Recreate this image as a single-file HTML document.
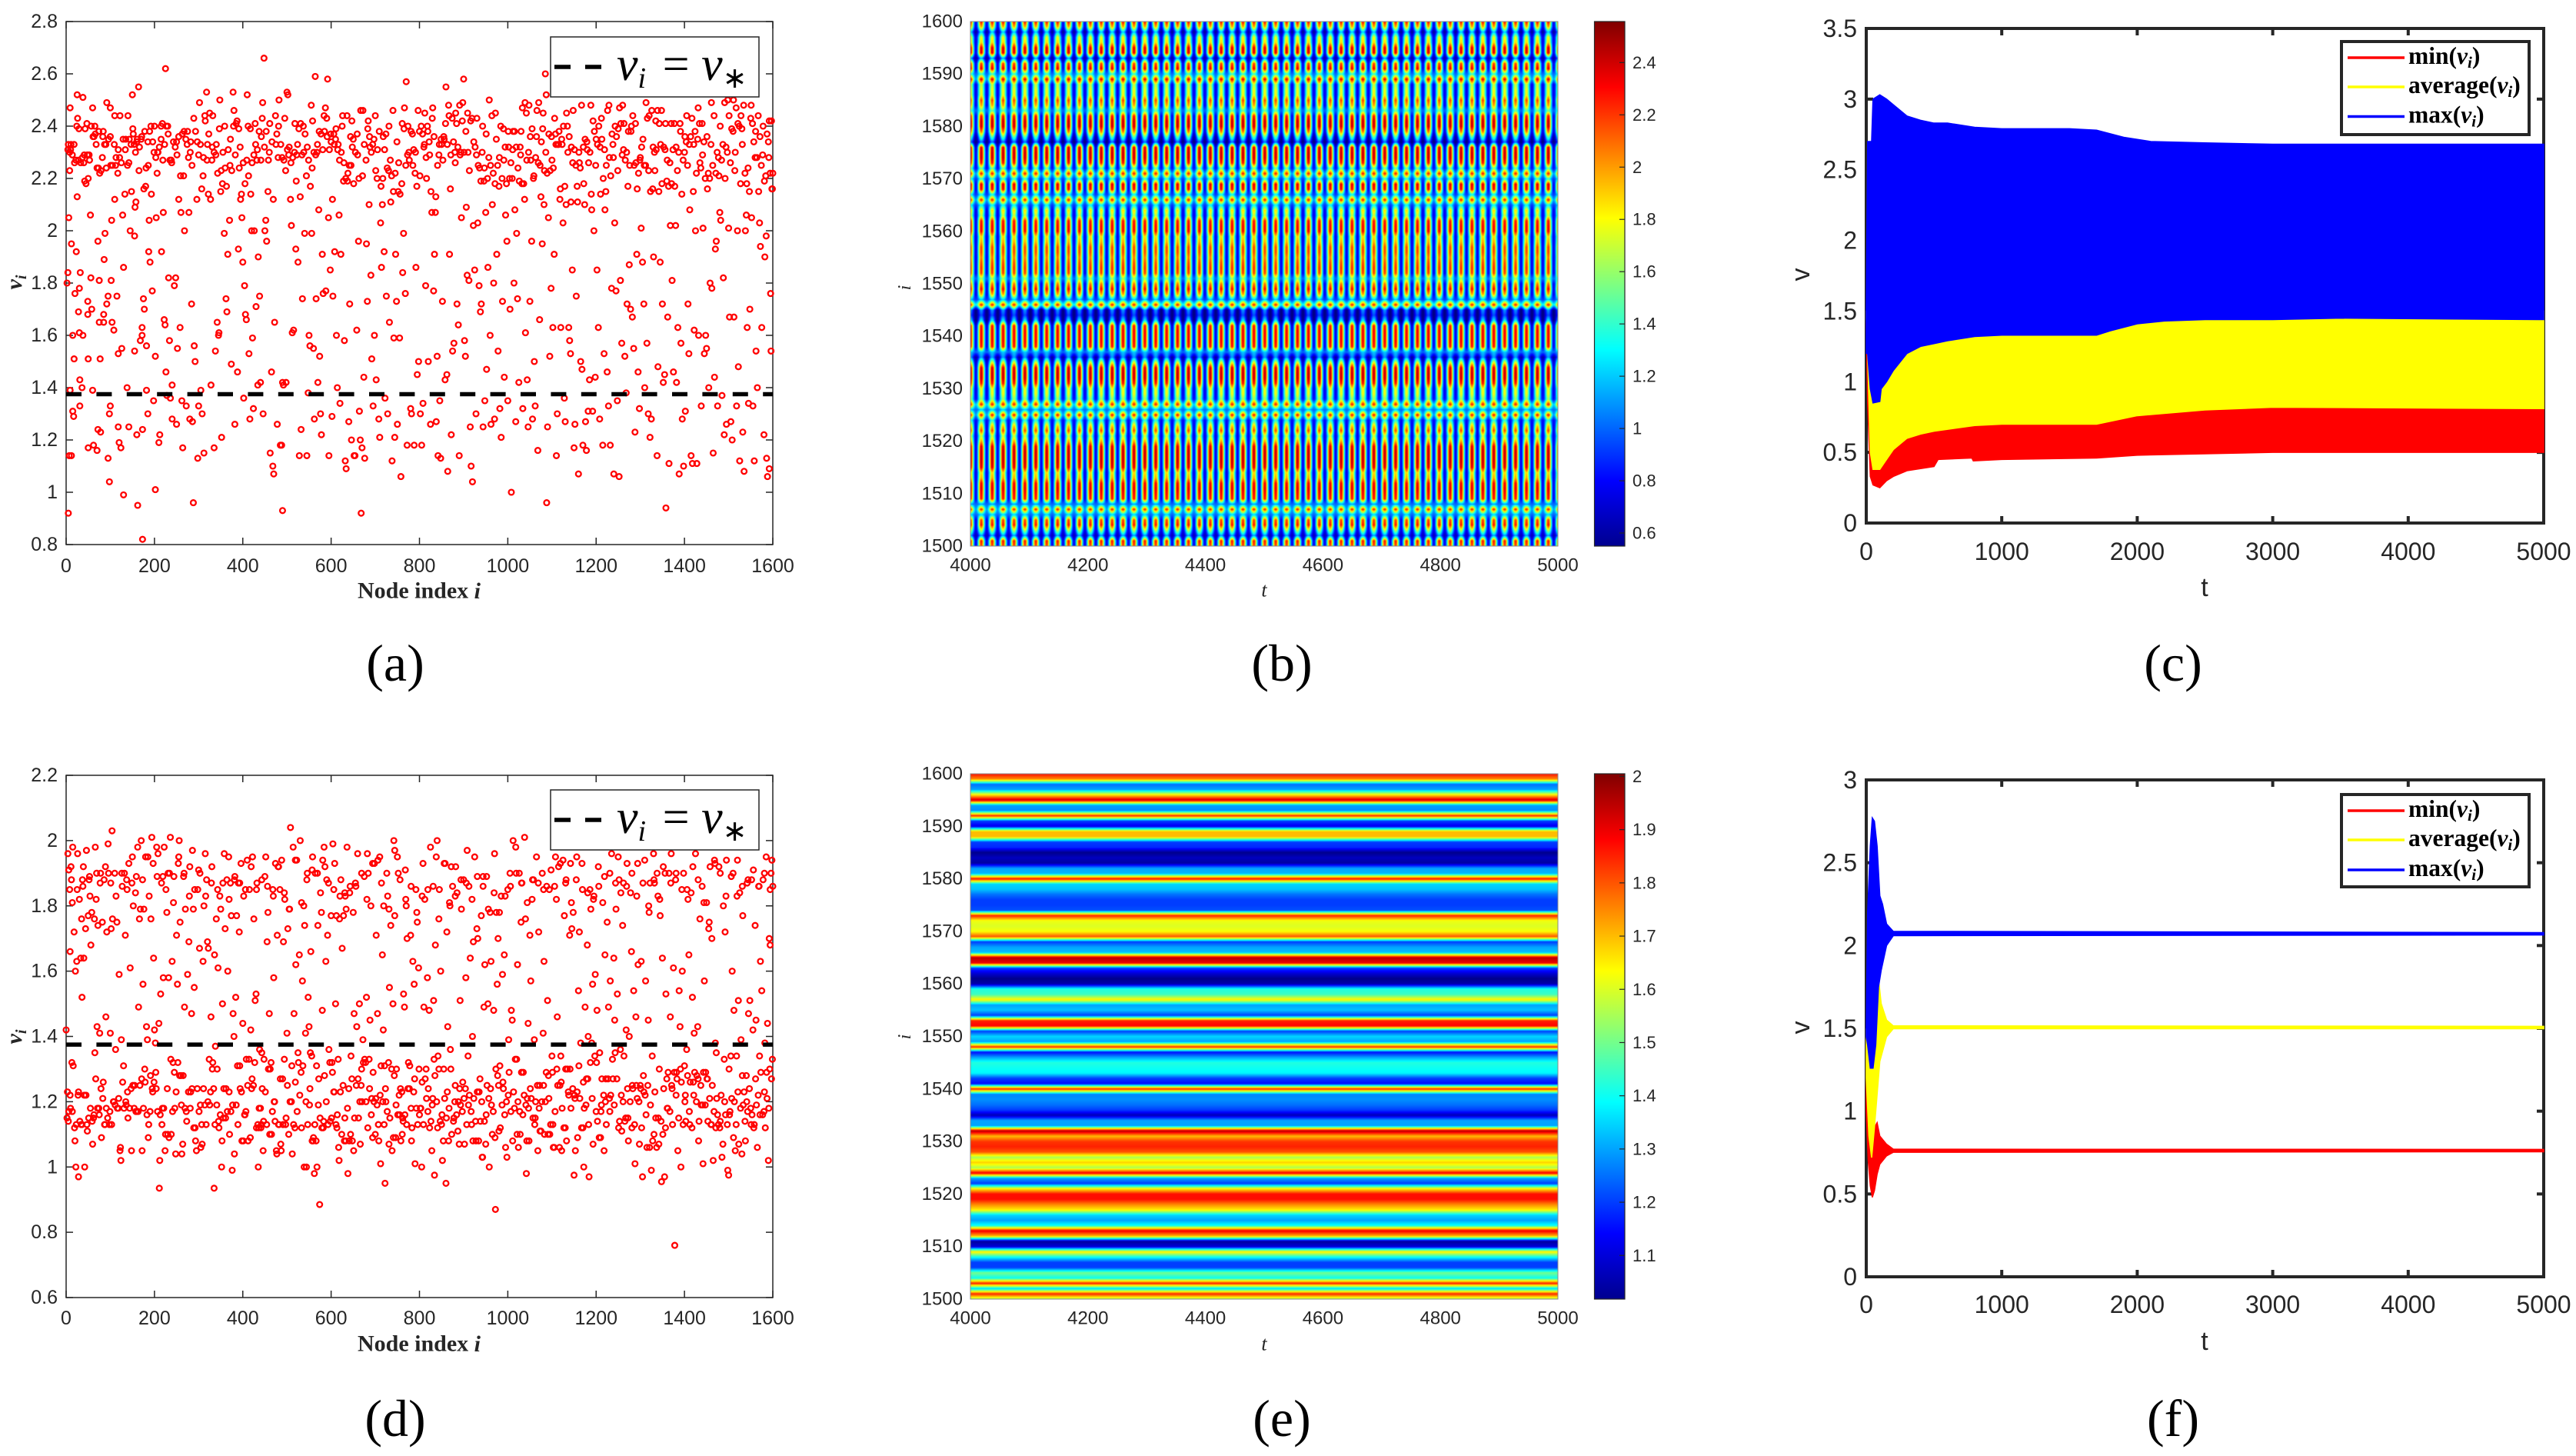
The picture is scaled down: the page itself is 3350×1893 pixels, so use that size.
<!DOCTYPE html>
<html lang="en">
<head>
<meta charset="utf-8">
<title>Six panel node dynamics figure</title>
<style>
html,body{margin:0;padding:0;background:#fff;}
#figure{position:relative;width:3350px;height:1893px;overflow:hidden;background:#fff;}
canvas{position:absolute;display:block;}
#overlay{position:absolute;left:0;top:0;}
text{fill:#262626;font-family:"Liberation Sans",sans-serif;}
.serif{font-family:"Liberation Serif",serif;}
</style>
</head>
<body>
<div id="figure">
<canvas id="heatB" width="764" height="682" style="left:1262px;top:28px"></canvas>
<canvas id="heatE" width="764" height="683" style="left:1262px;top:1006px"></canvas>
<svg id="overlay" width="3350" height="1893" viewBox="0 0 3350 1893" xmlns="http://www.w3.org/2000/svg">
<defs>
<linearGradient id="jetGrad" x1="0" y1="1" x2="0" y2="0">
<stop offset="0" stop-color="#00008f"/><stop offset="0.125" stop-color="#0000ff"/><stop offset="0.375" stop-color="#00ffff"/><stop offset="0.625" stop-color="#ffff00"/><stop offset="0.875" stop-color="#ff0000"/><stop offset="1" stop-color="#800000"/>
</linearGradient>
</defs>
</svg>
</div>
<script>
// ---- Panel (a) scatter: [node index, v] ----
const scatterA=[[5,.92],[6,2.05],[4,1.84],[2,1.8],[7,1.14],[12,1.14],[9,1.39],[12,1.95],[23,1.92],[5,2.33],[9,2.47],[8,2.23],[10,2.31],[18,2.33],[22,2.27],[25,2.52],[26,2.43],[25,2.13],[28,2.27],[30,1.61],[31,1.43],[15,1.31],[17,1.29],[15,1.6],[18,1.51],[20,1.76],[28,1.69],[31,1.33],[32,1.84],[30,1.78],[36,1.4],[38,1.6],[38,2.51],[40,2.26],[41,2.29],[42,2.19],[45,2.18],[47,2.41],[50,2.2],[52,2.29],[55,2.06],[56,1.82],[49,1.73],[49,1.68],[50,1.51],[50,1.17],[58,1.7],[60,2.47],[60,1.39],[62,1.18],[63,2.36],[65,2.4],[68,2.33],[72,1.96],[70,1.16],[73,2.24],[76,2.22],[75,1.81],[75,1.65],[77,1.51],[72,1.24],[78,1.23],[82,2.28],[84,2.38],[85,1.65],[85,1.68],[86,1.89],[88,1.99],[90,2.33],[92,1.72],[95,1.75],[92,2.49],[95,1.13],[98,1.3],[100,1.33],[100,2.47],[100,2.36],
[98,1.04],[102,1.81],[104,1.65],[103,2.04],[108,1.62],[110,2.44],[110,2.12],[112,2.25],[115,1.75],[118,1.53],[118,1.25],[120,1.19],[118,2.31],[122,2.44],[124,1.17],[126,1.55],[128,2.06],[130,.99],[130,1.86],[133,2.14],[135,2.35],[138,1.4],[140,2.44],[142,1.25],[142,2.26],[145,2.0],[148,2.15],[150,2.52],[152,2.37],[155,1.98],[155,1.54],[156,2.09],[158,2.11],[160,2.34],[160,1.22],[162,.95],[164,2.55],[165,2.23],[168,1.58],[170,2.35],[172,1.63],[172,1.6],[173,1.24],[173,.82],[175,1.74],[177,1.7],[178,2.38],[180,2.17],[182,1.56],[182,1.39],[185,1.3],[186,2.25],[187,1.92],[188,2.04],[190,1.88],[193,2.14],[195,1.77],[198,1.35],[200,2.4],[202,1.52],[202,1.01],[204,2.05],[206,2.22],[208,2.3],[210,1.19],[212,1.22],[215,2.35],[216,1.92],[218,2.41],[220,2.07],[222,1.66],[224,1.64],[225,2.62],[226,1.46],[228,1.37],[230,2.4],[232,1.82],[234,1.58],[236,1.36],[238,2.27],[240,1.41],[240,1.28],[245,1.79],[248,1.82],[250,2.34],[250,1.26],[252,1.55],[255,2.12],[258,1.63],[260,2.07],[262,1.35],[264,1.17],[266,2.21],[268,2.0],[272,1.33],[275,2.38],[278,2.07],[280,1.28],[282,2.34],[284,1.72],[286,1.27],[288,.96],[290,1.56],[292,1.5],[296,2.12],[298,1.13],[300,1.33],
[302,2.49],[305,1.39],[308,1.3],[310,2.21],[312,1.15],[315,2.42],[318,2.53],[320,2.33],[322,2.14],[325,2.45],[328,1.41],[330,2.27],[332,2.44],[335,1.17],[338,1.54],[340,2.33],[342,1.65],[345,1.6],[346,1.61],[348,2.5],[350,2.15],[352,1.21],[355,2.3],[358,1.99],[360,2.24],[362,1.74],[364,1.69],[366,1.91],[370,2.04],[372,2.35],[374,1.49],[378,2.53],[380,2.46],[382,1.26],[385,2.41],[388,1.46],[390,1.93],[392,2.24],[395,2.12],[398,2.05],[400,1.88],[402,1.36],[404,1.79],[406,1.68],[408,1.66],[410,2.52],[412,2.4],[414,1.53],[416,1.28],[418,2.14],[420,2.0],[422,1.59],[424,1.32],[426,2.0],[428,2.41],[430,1.71],[432,2.27],[434,1.41],[435,1.9],[438,1.75],[440,1.42],[442,2.36],[445,2.49],[446,1.3],[448,2.66],[450,2.0],[452,2.04],[454,1.96],[458,2.27],[460,2.3],[462,1.15],[465,1.46],[468,1.1],[470,1.07],[472,1.65],[475,2.33],[478,1.26],[480,2.28],[482,2.5],[485,1.18],[488,1.18],[490,.93],[490,1.42],[492,1.41],[495,2.43],[498,1.42],[500,2.53],
[502,2.52],[505,2.32],[508,2.12],[510,2.02],[512,1.61],[515,1.62],[518,2.41],[520,1.93],[522,2.29],[525,1.88],[528,1.14],[530,2.13],[532,1.24],[535,1.74],[538,2.3],[540,1.99],[545,1.14],[546,2.32],[548,1.38],[550,1.6],[552,1.56],[555,2.48],[556,1.99],[558,2.42],[560,1.55],[562,1.28],[564,2.59],[566,1.74],[568,2.3],[570,1.42],[572,2.08],[574,1.52],[576,1.3],[578,1.22],[580,1.91],[582,1.76],[585,2.38],[588,1.77],[590,2.43],[592,2.58],[594,2.05],[595,1.14],[598,1.85],[600,2.34],
[602,1.29],[604,1.75],[606,2.37],[608,1.92],[610,2.35],[612,1.6],[614,1.4],[616,2.33],[618,2.06],[620,1.34],[622,1.91],[625,2.4],[628,2.19],[630,1.58],[632,1.12],[634,1.09],[636,2.44],[638,2.22],[640,1.27],[642,1.72],[645,2.25],[646,1.2],[648,2.32],[650,2.35],[652,1.14],[654,1.14],[658,1.62],[660,2.29],[662,1.96],[664,1.31],[666,1.2],[668,.92],[670,1.17],[672,2.46],[674,1.44],[676,1.13],[680,1.95],[682,1.73],[684,2.42],[686,2.1],[688,2.32],[690,1.83],[692,1.51],[695,1.33],[698,1.6],[700,2.44],
[702,1.43],[705,2.31],[708,1.28],[710,1.21],[712,2.03],[714,1.86],[716,2.1],[718,2.36],[720,1.92],[722,1.36],[725,1.75],[728,1.3],[730,2.23],[732,1.65],[735,2.11],[738,1.12],[740,2.46],[742,1.59],[744,1.21],[746,1.91],[748,1.73],[750,1.26],[752,2.15],[755,1.59],[758,1.06],[760,2.18],[762,1.84],[764,1.99],[766,2.47],[768,1.76],[770,2.57],[772,1.18],[774,2.4],[776,2.3],[780,1.32],[782,1.3],[785,2.25],[788,1.18],[790,2.22],[792,1.86],[795,1.45],[798,1.5],[800,2.38],
[802,1.3],[805,1.18],[808,1.34],[810,2.32],[812,2.45],[814,1.79],[816,2.2],[818,2.4],[820,1.5],[822,2.34],[825,1.26],[828,2.07],[830,2.47],[832,1.77],[834,1.91],[836,2.07],[838,1.27],[840,1.52],[842,1.14],[844,2.29],[846,1.35],[848,1.13],[850,2.33],[852,1.73],[855,2.36],[858,1.43],[860,2.55],[862,1.45],[864,1.08],[866,2.48],[868,1.91],[870,2.16],[872,1.22],[875,1.54],[878,1.57],[880,2.3],[882,2.45],[885,1.72],[888,1.64],[890,1.14],[892,2.29],[895,2.05],[898,2.49],
[900,2.58],[902,1.58],[904,1.52],[906,2.09],[908,1.83],[910,2.3],[912,1.81],[915,1.25],[917,1.1],[920,1.04],[922,2.02],[925,1.85],[928,1.3],[930,2.43],[932,2.03],[935,1.79],[938,1.69],[940,1.72],[942,2.3],[944,1.25],[946,2.19],[948,1.35],[950,2.07],[952,1.47],[955,1.86],[958,2.5],[960,1.6],[962,1.26],[965,2.1],[968,1.8],[970,1.28],[972,2.45],[975,1.91],[978,1.54],[980,2.17],[982,1.32],[985,1.21],[988,1.73],[990,2.39],[992,1.44],[995,2.06],[998,1.96],
[1000,1.35],[1002,2.32],[1005,1.7],[1008,1.0],[1010,2.2],[1012,2.38],[1014,1.8],[1016,2.08],[1018,1.27],[1020,1.99],[1022,1.74],[1025,1.42],[1028,2.32],[1030,2.38],[1032,2.18],[1034,1.32],[1038,2.12],[1040,1.61],[1042,2.45],[1044,1.43],[1046,1.25],[1048,2.48],[1050,1.73],[1052,2.27],[1054,1.96],[1056,1.28],[1058,2.2],[1060,1.5],[1062,1.33],[1065,2.36],[1068,1.16],[1070,2.49],[1072,1.66],[1075,2.13],[1078,1.95],[1080,2.45],[1082,2.1],[1085,2.6],[1087,2.52],[1088,.96],[1090,1.25],[1092,2.05],[1095,1.52],[1098,1.78],[1100,2.27],
[1102,1.63],[1105,1.91],[1108,2.37],[1110,1.14],[1112,1.3],[1115,2.33],[1118,2.12],[1120,1.63],[1122,2.35],[1125,2.03],[1128,1.36],[1130,1.27],[1132,2.1],[1135,2.4],[1138,1.63],[1140,1.58],[1142,1.53],[1144,2.32],[1146,1.85],[1148,2.46],[1150,1.17],[1152,1.26],[1155,1.75],[1158,2.11],[1160,1.07],[1162,2.26],[1165,1.5],[1168,1.47],[1170,1.18],[1172,2.18],[1174,2.1],[1176,1.27],[1178,1.16],[1180,2.31],[1182,1.31],[1185,1.43],[1188,2.48],[1190,2.08],[1192,1.31],[1195,2.0],[1198,1.44],
[1200,2.35],[1202,1.85],[1205,1.63],[1208,1.28],[1210,2.14],[1212,2.43],[1215,1.18],[1218,1.53],[1220,2.08],[1222,2.15],[1225,1.46],[1228,1.33],[1230,2.28],[1232,1.18],[1235,1.78],[1238,2.33],[1240,1.07],[1242,2.03],[1245,1.77],[1248,1.35],[1250,2.39],[1252,1.06],[1255,1.81],[1258,1.57],[1260,2.48],[1262,2.31],[1265,1.52],[1268,1.38],[1270,1.72],[1272,2.17],[1275,1.87],[1278,1.7],[1280,2.4],[1282,1.67],[1285,1.55],[1288,1.23],[1290,2.26],[1292,1.91],[1295,1.46],[1298,1.32],
[1300,2.28],[1302,2.01],[1305,1.88],[1308,1.72],[1310,1.4],[1312,2.25],[1315,1.57],[1318,1.3],[1320,2.44],[1322,1.21],[1325,1.28],[1328,2.16],[1330,1.9],[1332,2.3],[1335,2.42],[1338,1.14],[1340,1.48],[1342,2.15],[1345,1.88],[1348,2.46],[1350,1.72],[1352,1.42],[1355,1.45],[1356,2.31],[1358,.94],[1360,2.19],[1362,1.67],[1365,1.11],[1368,2.02],[1370,2.41],[1372,1.81],[1375,1.46],[1378,2.17],[1380,2.02],[1382,1.42],[1385,1.63],[1388,1.07],[1390,2.41],[1392,1.57],[1395,1.28],[1398,1.1],
[1400,2.3],[1402,1.31],[1405,2.44],[1408,1.72],[1410,1.53],[1412,2.08],[1415,1.14],[1418,1.11],[1420,2.15],[1422,1.62],[1425,2.0],[1428,1.11],[1430,2.35],[1432,1.6],[1435,2.26],[1438,1.33],[1440,2.41],[1442,2.01],[1445,1.53],[1448,1.6],[1450,1.55],[1452,2.16],[1455,1.4],[1458,1.8],[1460,2.33],[1462,1.78],[1465,1.15],[1468,1.44],[1470,1.93],[1472,1.96],[1475,1.33],[1478,2.21],[1480,2.07],[1482,2.04],[1485,1.37],[1488,1.82],[1490,1.22],[1492,2.2],[1495,1.26],[1498,2.5],
[1500,2.01],[1502,1.67],[1505,1.27],[1508,1.2],[1510,2.38],[1512,1.67],[1515,2.3],[1518,1.33],[1520,2.0],[1522,1.48],[1525,1.12],[1528,2.44],[1530,2.39],[1532,1.23],[1535,1.08],[1538,2.0],[1540,2.06],[1542,1.63],[1545,1.34],[1548,1.7],[1550,2.43],[1552,2.05],[1555,1.33],[1558,1.12],[1560,2.28],[1562,1.54],[1565,1.4],[1568,2.15],[1570,2.03],[1572,1.94],[1575,1.63],[1578,2.4],[1580,1.22],[1582,1.9],[1585,1.98],[1586,1.13],[1588,1.06],[1590,2.34],[1592,2.42],[1592,1.09],[1595,1.76],[1596,1.54],[1598,2.16],[1600,2.22]];
// ---- Panel (a): dense upper band points ----
const scatterABand=[[4,2.31],[8,2.3],[11,2.33],[14,2.29],[19,2.26],[24,2.4],[29,2.39],[33,2.26],[37,2.28],[43,2.39],[48,2.29],[53,2.27],[57,2.4],[61,2.36],[66,2.37],[70,2.24],[74,2.38],[79,2.23],[83,2.36],[87,2.33],[91,2.24],[96,2.35],[101,2.25],[105,2.25],[109,2.33],[113,2.28],[117,2.22],[121,2.28],[125,2.26],[129,2.35],[134,2.31],[139,2.25],[143,2.35],[147,2.33],[151,2.39],[154,2.33],[157,2.3],[161,2.35],[166,2.32],[171,2.36],[176,2.16],[181,2.24],[185,2.34],[189,2.38],[192,2.4],[196,2.34],[199,2.3],[203,2.28],[207,2.3],[211,2.32],[215,2.4],[219,2.27],[223,2.33],[227,2.4],[231,2.37],[235,2.27],[239,2.26],[243,2.34],[247,2.32],[251,2.29],[255,2.36],[259,2.21],[263,2.37],[267,2.38],[271,2.35],[274,2.33],[277,2.28],[281,2.3],[285,2.25],[289,2.43],[293,2.38],[297,2.34],[300,2.29],[304,2.33],[307,2.16],[311,2.28],[314,2.44],[319,2.27],[323,2.37],[327,2.12],[331,2.32],[335,2.3],[339,2.29],[343,2.22],[347,2.39],[351,2.23],[354,2.18],[359,2.4],[363,2.17],[367,2.31],[371,2.25],[375,2.23],[379,2.4],[383,2.29],[387,2.42],[391,2.39],[394,2.32],[397,2.14],[401,2.26],[405,2.18],[409,2.27],[413,2.21],[417,2.39],[421,2.26],[425,2.29],[429,2.33],[433,2.31],[437,2.38],[441,2.27],[444,2.43],[449,2.32],[453,2.38],[457,2.15],[461,2.41],[466,2.34],[469,2.12],[474,2.44],[477,2.37],[481,2.4],[486,2.33],[489,2.28],[493,2.27],[497,2.23],[501,2.31],[504,2.29],[509,2.26],[513,2.28],[517,2.3],[521,2.19],[524,2.33],[527,2.39],[531,2.41],[534,2.29],[537,2.4],[541,2.37],[544,2.21],[549,2.27],[553,2.17],[557,2.24],[561,2.3],[565,2.29],[569,2.33],[573,2.38],[577,2.37],[581,2.31],[584,2.44],[587,2.47],[591,2.36],[596,2.31],[599,2.37],[603,2.12],[607,2.33],[611,2.39],[615,2.31],[619,2.27],[623,2.3],[626,2.44],[629,2.26],[633,2.2],[637,2.19],[641,2.25],[644,2.36],[647,2.42],[651,2.18],[655,2.3],[659,2.37],[663,2.2],[667,2.46],[671,2.21],[675,2.33],[679,2.27],[683,2.39],[687,2.36],[691,2.3],[694,2.33],[697,2.35],[701,2.23],[704,2.2],[709,2.38],[713,2.17],[717,2.2],[721,2.31],[724,2.37],[727,2.24],[731,2.4],[734,2.27],[737,2.21],[741,2.15],[745,2.22],[749,2.34],[753,2.26],[756,2.14],[761,2.41],[765,2.39],[769,2.25],[773,2.29],[777,2.27],[781,2.38],[784,2.37],[787,2.31],[791,2.3],[794,2.17],[797,2.46],[801,2.21],[804,2.4],[807,2.37],[811,2.33],[815,2.28],[819,2.38],[823,2.29],[826,2.15],[829,2.43],[833,2.36],[837,2.13],[841,2.25],[845,2.33],[849,2.35],[853,2.27],[856,2.35],[859,2.41],[863,2.33],[867,2.44],[871,2.29],[874,2.43],[877,2.34],[881,2.26],[884,2.41],[887,2.32],[891,2.48],[894,2.3],[897,2.42],[901,2.3],[905,2.38],[909,2.45],[913,2.23],[916,2.42],[919,2.43],[923,2.34],[926,2.32],[929,2.29],[933,2.25],[936,2.24],[939,2.19],[943,2.4],[947,2.24],[951,2.37],[954,2.2],[957,2.28],[961,2.25],[964,2.44],[967,2.22],[971,2.18],[974,2.35],[977,2.25],[981,2.28],[984,2.4],[987,2.2],[991,2.27],[994,2.32],[997,2.18],[1001,2.38],[1004,2.2],[1007,2.26],[1011,2.31],[1015,2.38],[1019,2.32],[1023,2.24],[1026,2.19],[1029,2.29],[1033,2.47],[1036,2.18],[1039,2.49],[1043,2.27],[1047,2.3],[1051,2.36],[1055,2.39],[1059,2.21],[1063,2.28],[1066,2.46],[1069,2.26],[1073,2.25],[1076,2.34],[1079,2.39],[1083,2.23],[1086,2.3],[1089,2.22],[1093,2.37],[1096,2.23],[1099,2.36],[1103,2.24],[1106,2.43],[1109,2.33],[1113,2.33],[1116,2.38],[1119,2.16],[1123,2.33],[1126,2.4],[1129,2.17],[1133,2.45],[1136,2.3],[1139,2.36],[1143,2.11],[1147,2.26],[1151,2.31],[1154,2.25],[1157,2.17],[1161,2.3],[1164,2.24],[1167,2.48],[1171,2.32],[1175,2.35],[1179,2.34],[1183,2.26],[1186,2.3],[1189,2.14],[1193,2.42],[1196,2.38],[1199,2.25],[1203,2.33],[1206,2.4],[1209,2.32],[1213,2.35],[1216,2.2],[1219,2.31],[1223,2.25],[1226,2.46],[1229,2.48],[1233,2.21],[1236,2.37],[1239,2.28],[1243,2.4],[1246,2.36],[1249,2.23],[1253,2.47],[1256,2.41],[1259,2.29],[1263,2.41],[1266,2.27],[1269,2.3],[1273,2.38],[1276,2.25],[1279,2.38],[1283,2.44],[1286,2.25],[1289,2.41],[1293,2.16],[1296,2.22],[1299,2.27],[1303,2.32],[1306,2.35],[1309,2.25],[1313,2.49],[1316,2.43],[1319,2.23],[1323,2.15],[1326,2.46],[1329,2.32],[1333,2.23],[1336,2.31],[1339,2.46],[1343,2.41],[1346,2.33],[1349,2.18],[1353,2.32],[1357,2.41],[1361,2.27],[1364,2.17],[1367,2.26],[1371,2.18],[1374,2.31],[1377,2.41],[1381,2.32],[1384,2.23],[1387,2.3],[1391,2.38],[1394,2.14],[1397,2.27],[1401,2.36],[1404,2.34],[1407,2.25],[1411,2.33],[1414,2.36],[1417,2.43],[1421,2.33],[1424,2.38],[1427,2.22],[1431,2.47],[1434,2.41],[1437,2.24],[1441,2.29],[1444,2.34],[1447,2.2],[1451,2.36],[1454,2.22],[1457,2.2],[1461,2.49],[1464,2.25],[1467,2.44],[1471,2.22],[1474,2.3],[1477,2.28],[1481,2.4],[1484,2.27],[1487,2.33],[1491,2.49],[1494,2.32],[1497,2.3],[1501,2.44],[1504,2.26],[1507,2.39],[1511,2.5],[1514,2.23],[1517,2.47],[1521,2.41],[1524,2.4],[1527,2.18],[1531,2.33],[1534,2.48],[1537,2.22],[1541,2.18],[1544,2.24],[1547,2.15],[1551,2.48],[1554,2.41],[1557,2.34],[1561,2.38],[1564,2.28],[1567,2.44],[1571,2.36],[1574,2.25],[1577,2.29],[1581,2.19],[1584,2.21],[1587,2.37],[1591,2.28],[1594,2.22],[1597,2.42],[1599,2.16]];
// ---- Panel (d) scatter: [node index, v] ----
const scatterD=[[0,1.42],[2,1.15],[3,1.23],[4,1.96],[6,1.91],[6,1.17],[8,1.85],[9,1.66],[10,1.18],[12,1.88],[13,1.32],[14,1.81],[15,1.98],[16,1.31],[18,1.72],[20,1.08],[21,1.6],[22,1.0],[24,1.63],[26,1.96],[28,1.23],[28,.97],[30,1.82],[33,1.64],[34,1.13],[35,1.76],[36,1.52],[37,1.88],[38,1.86],[40,1.64],[42,1.0],[44,1.73],[45,1.22],[46,1.97],[48,1.11],[50,1.77],[52,1.88],[54,1.83],[56,1.68],[58,1.78],[60,1.07],[62,1.15],[64,1.76],[65,1.35],[66,1.98],[68,1.82],[70,1.43],[72,1.74],[74,1.18],[76,1.41],[78,1.9],[80,1.09],[82,1.75],[84,1.26],[86,1.88],[88,1.13],[90,1.46],[92,1.72],[95,1.99],[96,1.9],[98,1.13],[100,1.41],
[102,1.73],[104,2.03],[105,1.76],[108,1.2],[110,1.9],[112,1.36],[115,1.75],[118,1.18],[120,1.59],[122,1.05],[124,1.02],[125,1.39],[127,1.86],[130,1.31],[132,1.9],[134,1.71],[136,1.19],[138,1.85],[140,1.15],[142,1.93],[145,1.61],[148,1.05],[150,1.95],[152,1.8],[155,1.25],[157,1.84],[160,1.17],[162,1.98],[164,1.49],[166,1.76],[168,1.79],[170,2.0],[172,1.05],[174,1.56],[176,1.79],[178,1.3],[180,1.95],[182,1.43],[184,1.39],[186,1.09],[188,1.83],[190,1.17],[192,1.76],[194,2.01],[196,1.23],[198,1.64],[200,1.42],[202,1.38],[204,1.24],[205,1.98],[208,1.96],[210,1.44],[211,.935],[212,1.02],[214,1.53],[216,1.87],[218,1.18],[220,1.58],[222,1.98],[224,1.05],[226,1.85],[228,1.78],[230,1.1],[232,1.58],[234,1.9],[236,2.01],[238,1.1],[240,1.63],[242,1.32],[244,1.89],[246,1.18],[248,1.04],[250,1.71],[252,1.56],[254,1.93],[256,2.0],[258,1.75],[260,1.28],[262,1.04],[264,1.07],[266,1.89],[268,1.49],[270,1.79],[272,1.17],[275,1.59],[278,1.69],[280,1.92],[282,1.23],[284,1.47],[286,1.97],[288,1.79],[290,1.55],[292,1.12],[295,1.05],[298,1.85],[300,1.91],
[302,1.67],[305,1.06],[308,1.07],[310,1.63],[312,1.8],[315,1.96],[318,1.88],[320,1.69],[322,1.67],[325,1.19],[328,1.46],[330,1.92],[332,1.32],[335,.935],[336,1.65],[338,1.37],[340,1.76],[342,1.3],[344,1.61],[346,1.12],[348,1.83],[350,1.79],[352,1.0],[354,1.5],[356,1.15],[358,1.96],[360,1.73],[362,1.24],[364,1.88],[366,1.6],[368,1.95],[370,1.1],[372,1.87],[374,1.77],[376,.99],[378,1.47],[380,1.4],[382,1.89],[384,1.52],[386,1.77],[388,1.31],[390,1.87],[392,1.72],[394,1.24],[396,1.93],[398,1.08],[400,1.44],
[402,1.83],[405,1.16],[408,1.33],[410,1.94],[412,1.08],[415,1.85],[418,1.42],[420,1.24],[422,1.95],[425,1.76],[428,1.51],[430,1.53],[432,1.87],[435,1.0],[436,1.12],[438,1.36],[440,1.18],[442,1.13],[444,1.24],[446,1.05],[448,1.33],[450,1.89],[452,1.95],[455,1.69],[457,1.78],[460,1.47],[462,1.3],[465,1.1],[468,1.85],[470,1.58],[472,1.2],[474,1.93],[476,1.05],[478,1.71],[480,1.92],[482,1.13],[484,1.85],[486,1.07],[488,1.94],[490,1.27],[492,1.69],[495,1.82],[498,1.15],[500,1.41],
[502,1.73],[505,1.79],[508,2.04],[510,1.2],[512,1.04],[514,1.98],[516,1.47],[518,1.12],[520,1.62],[522,1.94],[525,1.35],[528,1.65],[530,2.0],[532,1.29],[535,1.57],[538,1.8],[540,1.74],[542,1.41],[544,1.0],[546,1.9],[548,1.52],[550,1.43],[552,1.24],[554,1.66],[556,1.34],[558,1.95],[560,1.09],[562,.98],[564,1.9],[566,1.08],[568,1.0],[570,1.74],[572,1.27],[574,.885],[576,1.84],[578,1.78],[580,1.48],[582,1.12],[584,1.98],[586,1.92],[588,1.63],[590,1.88],[592,1.71],[595,1.36],[598,1.14],[600,1.77],
[602,1.32],[604,1.99],[606,1.23],[608,1.93],[610,1.5],[612,1.77],[614,1.16],[616,1.33],[618,1.02],[620,1.83],[622,1.88],[625,1.67],[628,1.77],[630,1.08],[632,1.83],[634,1.79],[636,1.98],[638,.98],[640,1.24],[642,1.84],[645,1.34],[648,1.08],[650,1.78],[652,1.47],[655,1.87],[658,1.43],[660,1.96],[662,1.15],[664,1.5],[666,1.07],[668,1.25],[670,1.2],[672,1.39],[675,1.89],[678,1.32],[680,1.52],[682,1.96],[684,1.9],[686,1.33],[688,1.45],[690,1.8],[692,1.21],[695,1.29],[698,1.93],[700,1.1],
[702,1.71],[705,1.47],[708,1.08],[710,1.95],[712,1.01],[714,1.87],[716,1.65],[718,1.42],[720,1.13],[722,.95],[724,1.2],[726,1.9],[728,1.83],[730,1.32],[732,1.55],[735,1.74],[738,1.05],[740,1.5],[742,2.0],[744,1.97],[746,1.09],[748,1.3],[750,1.95],[752,1.9],[755,1.16],[758,1.08],[760,1.23],[762,1.15],[764,1.53],[766,1.49],[768,1.91],[770,1.8],[772,1.7],[775,1.32],[778,1.31],[780,1.71],[782,1.08],[785,1.63],[788,1.56],[790,1.01],[792,1.85],[795,1.75],[798,1.61],[800,1.16],
[802,1.18],[805,1.0],[808,1.93],[810,1.49],[812,1.82],[815,1.3],[818,1.58],[820,1.24],[822,1.48],[825,1.98],[828,1.05],[830,1.21],[832,1.51],[834,.975],[836,1.68],[838,1.95],[840,2.0],[842,1.34],[845,1.85],[848,1.6],[850,1.13],[852,1.02],[855,1.3],[858,1.93],[860,.95],[862,1.72],[864,1.43],[866,1.08],[868,1.81],[870,1.36],[872,1.92],[875,1.86],[878,1.15],[880,1.2],[882,1.92],[885,1.84],[888,1.2],[890,1.07],[892,1.51],[895,1.79],[898,1.26],[900,1.88],
[902,1.07],[905,1.58],[908,1.97],[910,1.34],[912,1.86],[915,1.64],[918,1.13],[920,1.4],[922,1.69],[925,1.95],[928,1.08],[930,1.73],[932,1.7],[935,1.23],[938,1.14],[940,1.77],[942,1.03],[944,1.89],[946,1.49],[948,1.62],[950,1.07],[952,1.89],[955,1.5],[958,1.0],[960,1.78],[962,1.63],[965,1.1],[968,1.48],[970,1.96],[972,.87],[974,1.78],[976,1.56],[978,1.7],[980,1.11],[982,1.31],[985,1.83],[988,1.59],[990,1.24],[992,1.65],[995,1.06],[998,1.03],
[1000,1.85],[1002,1.39],[1005,1.9],[1008,1.48],[1010,1.45],[1012,2.0],[1015,1.18],[1018,1.98],[1020,1.33],[1022,1.62],[1024,1.06],[1026,1.9],[1028,1.1],[1030,1.75],[1032,1.87],[1035,1.29],[1038,2.01],[1040,1.76],[1042,.98],[1044,1.21],[1046,1.44],[1048,1.08],[1050,1.71],[1052,1.57],[1055,1.82],[1058,1.88],[1060,1.39],[1062,1.15],[1065,1.95],[1068,1.05],[1070,1.72],[1072,1.25],[1075,1.11],[1078,1.9],[1080,1.41],[1082,1.63],[1085,1.2],[1088,1.86],[1090,1.51],[1092,1.28],[1095,1.1],[1098,1.91],
[1100,1.34],[1102,1.13],[1105,1.06],[1108,1.95],[1110,1.82],[1112,1.46],[1115,1.92],[1118,1.25],[1120,1.34],[1122,1.05],[1125,1.94],[1128,1.77],[1130,1.12],[1132,1.88],[1135,1.3],[1138,1.22],[1140,1.71],[1142,1.93],[1145,1.73],[1148,1.78],[1150,.975],[1152,1.21],[1155,1.88],[1158,1.09],[1160,1.54],[1162,1.72],[1165,1.38],[1168,1.93],[1170,1.12],[1172,1.0],[1175,1.49],[1178,1.27],[1180,1.68],[1182,1.4],[1184,.97],[1186,1.85],[1188,1.79],[1190,1.38],[1192,1.56],[1195,1.83],[1198,1.59],
[1200,1.17],[1202,1.48],[1205,1.92],[1208,1.35],[1210,1.09],[1212,1.19],[1215,1.81],[1218,1.05],[1220,1.65],[1222,1.27],[1225,1.75],[1228,1.49],[1230,1.21],[1232,1.57],[1235,1.96],[1238,1.27],[1240,1.64],[1242,1.45],[1245,1.79],[1248,1.53],[1250,1.95],[1252,1.88],[1255,1.36],[1258,1.11],[1260,1.74],[1262,1.87],[1265,1.14],[1268,1.42],[1270,1.93],[1272,1.15],[1275,1.4],[1278,1.84],[1280,1.66],[1282,1.25],[1285,1.54],[1288,1.01],[1290,1.46],[1292,1.83],[1295,1.62],[1298,1.07],
[1300,1.25],[1302,1.63],[1305,.97],[1308,1.23],[1310,1.94],[1312,1.57],[1315,1.06],[1318,1.45],[1320,1.78],[1322,1.87],[1325,.99],[1328,1.08],[1330,1.96],[1332,1.87],[1335,1.15],[1338,1.9],[1340,1.83],[1342,1.07],[1345,1.77],[1348,.955],[1350,1.64],[1352,1.92],[1355,.97],[1358,1.53],[1360,1.27],[1362,1.18],[1365,1.9],[1368,1.46],[1370,1.96],[1372,1.24],[1375,1.61],[1378,.76],[1380,1.88],[1382,1.29],[1385,1.05],[1388,1.54],[1390,1.43],[1392,1.0],[1395,1.6],[1398,1.9],
[1400,1.31],[1402,1.22],[1405,1.36],[1408,1.82],[1410,1.65],[1412,1.13],[1415,1.84],[1418,1.52],[1420,1.26],[1422,1.41],[1425,1.96],[1428,1.28],[1430,1.43],[1432,1.08],[1435,1.76],[1438,1.19],[1440,1.86],[1442,1.01],[1445,1.57],[1448,1.29],[1450,1.81],[1452,1.27],[1455,1.73],[1458,1.92],[1460,1.13],[1462,1.7],[1465,1.02],[1468,1.94],[1470,1.38],[1472,1.35],[1475,1.16],[1478,1.92],[1480,1.12],[1485,1.03],[1488,1.8],[1490,1.33],[1492,1.72],[1495,1.94],[1498,.99],
[1500,.975],[1502,1.16],[1505,1.34],[1508,1.6],[1510,1.9],[1512,1.48],[1515,1.05],[1518,1.34],[1520,1.94],[1522,1.51],[1525,1.84],[1528,1.39],[1530,1.04],[1532,1.77],[1535,1.23],[1538,1.08],[1540,1.28],[1542,1.87],[1545,1.47],[1548,1.51],[1550,1.18],[1552,1.88],[1555,1.42],[1558,1.13],[1560,1.74],[1562,1.45],[1565,1.06],[1568,1.86],[1570,1.34],[1572,1.63],[1575,1.54],[1578,1.88],[1580,1.17],[1582,1.38],[1585,1.95],[1586,1.29],[1588,1.44],[1590,1.02],[1592,1.7],[1594,1.68],[1596,1.9],[1598,1.94],[1599,1.33],[1600,1.86]];
// ---- Panel (d): dense lower band points ----
const scatterDBand=[[5,1.14],[9,1.22],[14,1.17],[19,1.12],[23,1.13],[27,1.22],[31,1.14],[36,1.13],[41,1.22],[47,1.13],[51,1.15],[55,1.18],[59,1.14],[63,1.16],[67,1.27],[71,1.18],[75,1.16],[79,1.24],[83,1.21],[87,1.13],[91,1.18],[94,1.15],[99,1.17],[103,1.13],[107,1.2],[111,1.19],[116,1.18],[119,1.21],[123,1.06],[128,1.26],[131,1.18],[135,1.2],[139,1.23],[144,1.18],[147,1.24],[151,1.25],[154,1.18],[158,1.17],[163,1.17],[167,1.25],[171,1.27],[175,1.18],[179,1.26],[183,1.16],[187,1.13],[191,1.28],[195,1.24],[199,1.26],[203,1.29],[207,1.17],[213,1.16],[217,1.13],[221,1.18],[225,1.1],[229,1.24],[233,1.09],[237,1.33],[241,1.17],[245,1.29],[249,1.23],[253,1.32],[257,1.28],[261,1.19],[265,1.28],[269,1.18],[273,1.14],[277,1.23],[281,1.18],[285,1.24],[289,1.12],[293,1.08],[297,1.24],[301,1.17],[304,1.19],[307,1.13],[311,1.24],[314,1.19],[317,1.13],[321,1.2],[324,1.33],[327,1.23],[331,1.3],[334,1.24],[337,1.13],[341,1.19],[345,1.14],[349,1.16],[353,1.08],[357,1.24],[361,1.15],[365,1.17],[369,1.23],[373,1.17],[377,1.19],[381,1.04],[385,1.19],[389,1.13],[393,1.31],[397,1.23],[401,1.08],[404,1.16],[407,1.17],[411,1.25],[414,1.33],[417,1.09],[421,1.27],[424,1.25],[427,1.32],[431,1.12],[434,1.13],[437,1.18],[441,1.12],[443,1.35],[447,1.14],[451,1.23],[454,1.13],[458,1.3],[461,1.1],[464,1.32],[467,1.17],[471,1.2],[473,1.14],[477,1.04],[481,1.13],[485,1.27],[487,1.05],[491,1.13],[494,1.33],[497,1.13],[501,1.25],[504,1.1],[507,1.2],[511,1.31],[515,1.13],[519,1.26],[523,1.17],[526,1.32],[529,1.22],[533,1.12],[536,1.31],[539,1.0],[543,1.2],[547,1.13],[551,1.19],[553,1.35],[557,1.08],[559,1.08],[563,1.13],[567,1.31],[571,1.19],[575,1.15],[579,1.12],[583,1.14],[585,1.28],[589,1.2],[593,1.13],[597,1.32],[601,1.15],[603,1.29],[607,1.23],[611,1.13],[613,1.12],[617,1.06],[621,1.23],[624,1.1],[627,1.25],[631,1.15],[633,1.08],[637,1.18],[641,1.08],[644,1.1],[647,1.27],[651,1.05],[653,1.15],[657,1.25],[661,1.27],[665,1.2],[669,1.3],[673,1.32],[676,1.33],[679,1.2],[683,1.12],[687,1.24],[691,1.16],[694,1.09],[697,1.2],[701,1.21],[704,1.19],[707,1.13],[711,1.22],[713,1.31],[717,1.2],[721,1.31],[723,1.24],[727,1.17],[731,1.07],[733,1.15],[737,1.3],[741,1.09],[743,1.28],[747,1.19],[751,1.16],[754,1.22],[757,1.24],[761,1.1],[763,1.14],[767,1.16],[771,1.13],[774,1.24],[777,1.24],[781,1.18],[783,1.12],[787,1.23],[789,1.27],[793,1.18],[796,1.13],[799,1.3],[803,1.18],[806,1.26],[809,1.13],[813,1.27],[816,1.21],[819,1.17],[823,1.12],[826,1.14],[829,1.19],[833,1.33],[835,1.28],[839,1.2],[841,1.12],[844,1.3],[847,1.14],[851,1.16],[854,1.08],[857,1.21],[861,1.15],[863,1.23],[867,1.18],[871,1.3],[873,1.1],[877,1.14],[881,1.25],[884,1.16],[887,1.11],[891,1.24],[893,1.19],[897,1.17],[901,1.21],[904,1.24],[907,1.13],[911,1.19],[913,1.22],[917,1.17],[921,1.08],[923,1.21],[927,1.14],[931,1.23],[934,1.08],[937,1.27],[941,1.2],[943,1.03],[947,1.14],[951,1.16],[953,1.25],[957,1.21],[961,1.24],[963,1.19],[967,1.17],[971,1.09],[973,1.3],[977,1.28],[979,1.25],[983,1.12],[987,1.19],[989,1.26],[993,1.16],[997,1.2],[1001,1.22],[1003,1.29],[1007,1.17],[1011,1.08],[1013,1.23],[1017,1.33],[1021,1.1],[1023,1.2],[1027,1.17],[1031,1.29],[1034,1.16],[1037,1.22],[1041,1.19],[1043,1.08],[1047,1.18],[1051,1.24],[1053,1.21],[1057,1.15],[1061,1.13],[1063,1.2],[1067,1.25],[1071,1.18],[1073,1.11],[1077,1.2],[1081,1.25],[1083,1.1],[1087,1.29],[1091,1.1],[1093,1.21],[1097,1.13],[1101,1.29],[1103,1.06],[1107,1.17],[1111,1.3],[1113,1.25],[1117,1.06],[1121,1.26],[1123,1.18],[1127,1.12],[1131,1.3],[1133,1.08],[1137,1.23],[1141,1.3],[1143,1.18],[1147,1.24],[1151,1.22],[1153,1.05],[1157,1.23],[1161,1.31],[1163,1.21],[1167,1.12],[1171,1.26],[1173,1.18],[1177,1.19],[1181,1.27],[1183,1.13],[1187,1.32],[1191,1.21],[1193,1.07],[1197,1.34],[1201,1.32],[1203,1.14],[1207,1.09],[1211,1.17],[1213,1.27],[1217,1.22],[1221,1.2],[1223,1.13],[1227,1.27],[1231,1.17],[1233,1.22],[1237,1.33],[1241,1.19],[1243,1.35],[1247,1.27],[1251,1.12],[1253,1.14],[1257,1.22],[1261,1.2],[1263,1.34],[1267,1.15],[1271,1.24],[1273,1.08],[1277,1.2],[1281,1.12],[1283,1.24],[1287,1.13],[1291,1.25],[1293,1.21],[1297,1.2],[1301,1.24],[1303,1.12],[1307,1.28],[1311,1.22],[1313,1.16],[1317,1.25],[1321,1.06],[1323,1.19],[1327,1.34],[1331,1.1],[1333,1.23],[1337,1.06],[1341,1.15],[1343,1.3],[1347,1.14],[1351,1.1],[1353,1.24],[1357,1.12],[1361,1.18],[1363,1.29],[1367,1.17],[1371,1.25],[1373,1.13],[1377,1.29],[1381,1.22],[1383,1.27],[1387,1.15],[1391,1.3],[1393,1.26],[1397,1.13],[1401,1.2],[1403,1.14],[1407,1.28],[1411,1.17],[1413,1.26],[1417,1.12],[1421,1.22],[1423,1.29],[1427,1.2],[1431,1.27],[1433,1.14],[1437,1.25],[1441,1.19],[1443,1.29],[1447,1.19],[1451,1.27],[1453,1.14],[1457,1.21],[1461,1.13],[1463,1.25],[1467,1.17],[1471,1.12],[1473,1.21],[1477,1.13],[1481,1.14],[1483,1.22],[1487,1.07],[1491,1.2],[1493,1.16],[1497,1.13],[1501,1.3],[1503,1.17],[1507,1.21],[1511,1.09],[1513,1.2],[1517,1.13],[1521,1.23],[1523,1.07],[1527,1.18],[1531,1.28],[1533,1.19],[1537,1.14],[1541,1.2],[1543,1.17],[1547,1.24],[1551,1.13],[1553,1.16],[1557,1.12],[1561,1.27],[1563,1.19],[1567,1.22],[1571,1.16],[1573,1.29],[1577,1.16],[1581,1.23],[1583,1.12],[1587,1.21],[1591,1.18],[1593,1.3],[1597,1.27]];
// ---- Panel (d): dense upper band points ----
const scatterDTop=[[11,1.92],[25,1.85],[39,1.92],[53,1.89],[69,1.9],[77,1.87],[89,1.92],[101,1.87],[113,1.83],[126,1.9],[137,1.88],[149,1.87],[159,1.89],[173,1.88],[185,1.95],[197,1.93],[206,1.89],[219,1.89],[231,1.9],[243,1.81],[255,1.95],[267,1.9],[279,1.83],[291,1.85],[303,1.9],[316,1.83],[329,1.87],[343,1.85],[355,1.87],[369,1.82],[381,1.88],[393,1.87],[406,1.85],[419,1.92],[431,1.85],[443,1.88],[456,1.86],[469,1.83],[481,1.92],[494,1.84],[506,1.79],[519,1.94],[533,1.81],[545,1.88],[557,1.91],[569,1.9],[581,1.94],[594,1.87],[606,1.85],[619,1.76],[631,1.84],[643,1.86],[656,1.86],[669,1.9],[681,1.82],[694,1.93],[706,1.94],[719,1.8],[731,1.79],[744,1.77],[756,1.88],[769,1.82],[781,1.86],[794,1.78],[806,1.83],[819,1.85],[831,1.86],[844,1.76],[856,1.93],[869,1.8],[881,1.83],[894,1.88],[906,1.87],[919,1.82],[931,1.89],[944,1.86],[956,1.79],[969,1.84],[981,1.78],[994,1.83],[1006,1.86],[1019,1.9],[1031,1.87],[1044,1.81],[1056,1.88],[1069,1.87],[1081,1.85],[1094,1.85],[1106,1.86],[1119,1.93],[1131,1.87],[1144,1.81],[1156,1.95],[1169,1.85],[1181,1.84],[1194,1.82],[1206,1.86],[1219,1.89],[1231,1.9],[1244,1.87],[1256,1.84],[1269,1.86],[1281,1.9],[1294,1.93],[1306,1.87],[1319,1.8],[1331,1.88],[1344,1.82],[1356,1.9],[1369,1.87],[1381,1.9],[1394,1.85],[1406,1.85],[1419,1.92],[1431,1.88],[1444,1.81],[1456,1.75],[1469,1.93],[1481,1.9],[1494,1.83],[1506,1.89],[1519,1.83],[1531,1.86],[1544,1.88],[1556,1.91],[1569,1.86],[1581,1.9],[1594,1.85]];
// ---- Reference level and panel tick labels ----
const refLevel=[1.375];
const ticksNode=[0,200,400,600,800,1000,1200,1400,1600];
const ticksVA=[0.8,1,1.2,1.4,1.6,1.8,2,2.2,2.4,2.6,2.8];
const ticksVD=[0.6,0.8,1,1.2,1.4,1.6,1.8,2,2.2];
const ticksT=[4000,4200,4400,4600,4800,5000];
const ticksI=[1500,1510,1520,1530,1540,1550,1560,1570,1580,1590,1600];
const ticksBarB=[0.6,0.8,1,1.2,1.4,1.6,1.8,2,2.2,2.4];
const ticksBarE=[1.1,1.2,1.3,1.4,1.5,1.6,1.7,1.8,1.9,2];
const ticksTime=[0,1000,2000,3000,4000,5000];
const ticksVC=[0,0.5,1,1.5,2,2.5,3,3.5];
const ticksVF=[0,0.5,1,1.5,2,2.5,3];
// ---- Heatmap (b): per-node peak and trough for i=1500..1600, plus one oscillation cycle ----
const rowPeakB=[2.2,2.3,1.1,1.7,2.3,2.2,1.2,2.3,1.1,2.3,2.35,2.4,2.35,2.0,1.9,2.4,2.45,2.45,2.45,2.4,2.0,1.7,2.2,1.9,1.4,2.3,1.2,2.3,1.6,1.8,1.8,2.3,2.45,2.45,2.4,1.8,1.1,1.2,2.3,2.35,2.35,2.35,2.3,1.3,0.95,1.1,2.3,1.2,2.0,2.35,2.1,1.6,2.2,2.25,2.2,2.1,2.2,2.2,2.0,1.9,2.35,2.35,2.3,1.7,1.9,1.3,2.3,1.3,2.35,2.4,1.4,2.3,1.5,2.3,2.45,2.45,2.4,1.0,1.5,2.1,2.45,2.45,2.3,1.5,2.0,2.2,1.8,1.8,1.7,2.4,1.4,2.4,2.2,1.1,2.4,2.4,1.9,1.8,1.2,2.0,2.35];
const rowTroughB=[.75,.75,.65,.75,.75,.75,1.0,1.1,1.0,.75,.75,.75,.75,.75,.75,.75,.75,.75,.75,.75,.75,.75,.75,.75,.8,1.1,1.0,1.2,.8,.75,.75,.75,.75,.75,.75,.7,.6,1.0,.75,.75,.75,.75,.7,.55,.55,.55,1.3,.9,.75,.75,.75,1.0,.75,.75,.75,.75,.75,.75,.75,.75,.75,.75,.75,.75,.75,.9,1.1,.9,.75,.75,.9,1.1,.8,.75,.75,.75,.7,.55,.6,.75,.75,.75,.75,1.0,.75,.75,.75,.75,.75,1.1,1.0,.75,.75,.6,.75,.75,.75,.75,.6,.75,.75];
const cycleShape=[1,.95,.82,.62,.42,.24,.1,.02,.02,.1,.24,.42,.62,.82,.95];
const cycleLengthT=[18.56];
// ---- Heatmap (e): steady state value per node for i=1500..1600 ----
const rowValueE=[1.55,1.85,1.35,1.85,1.4,1.5,1.2,1.2,1.4,1.65,1.1,1.05,1.7,1.9,1.4,1.3,1.35,1.65,1.75,1.87,1.87,1.65,1.2,1.3,1.9,1.55,1.68,1.55,1.8,1.85,1.83,1.7,1.95,1.3,1.3,1.07,1.2,1.25,1.28,1.27,1.85,1.15,1.2,1.38,1.4,1.42,1.3,1.15,1.85,1.3,1.35,1.2,1.88,1.85,1.2,1.33,1.3,1.65,1.45,1.42,1.06,1.03,1.1,1.2,1.9,1.95,1.33,1.3,1.2,1.8,1.63,1.6,1.62,1.85,1.22,1.2,1.2,1.25,1.33,1.35,1.87,1.32,1.3,1.05,1.08,1.03,1.18,1.2,1.7,1.7,1.12,1.2,1.85,1.28,1.3,1.93,1.65,1.3,1.25,1.75,1.87];
// ---- Panel (c) envelopes: [t, v] ----
const cMaxHigh=[[0,1.5],[10,2.7],[40,2.7],[50,3.0],[100,3.03],[150,3.0],[200,2.96],[300,2.88],[400,2.85],[500,2.83],[600,2.83],[800,2.8],[1000,2.79],[1500,2.79],[1700,2.78],[1900,2.73],[2100,2.7],[2500,2.69],[3000,2.68],[4000,2.68],[5000,2.68]];
const cMaxLow=[[0,1.2],[10,1.2],[30,.95],[50,.85],[100,.86],[110,.95],[150,1.0],[200,1.08],[300,1.2],[400,1.25],[500,1.27],[600,1.29],[800,1.32],[1000,1.33],[1700,1.33],[1800,1.36],[2000,1.41],[2200,1.43],[2500,1.44],[3000,1.44],[3500,1.45],[5000,1.44]];
const cAvgHigh=[[0,1.5],[5000,1.5]];
const cAvgLow=[[0,1.45],[10,1.2],[20,.85],[30,.5],[50,.38],[100,.38],[150,.45],[200,.52],[300,.6],[400,.63],[500,.65],[800,.69],[1000,.7],[1700,.7],[2000,.76],[2500,.8],[3000,.82],[5000,.81]];
const cMinHigh=[[0,1.42],[10,.9],[5000,.9]];
const cMinLow=[[0,1.42],[10,.85],[20,.6],[30,.33],[50,.27],[100,.25],[150,.3],[200,.33],[300,.37],[500,.4],[530,.45],[780,.46],[790,.44],[1000,.45],[1700,.46],[2000,.48],[3000,.5],[5000,.5]];
// ---- Panel (f) envelopes: [t, v] ----
const fMaxHigh=[[0,1.5],[10,2.2],[30,2.6],[45,2.77],[60,2.75],[80,2.6],[100,2.3],[120,2.25],[150,2.13],[200,2.085],[300,2.085],[5000,2.078]];
const fMaxLow=[[0,1.45],[10,1.4],[30,1.26],[50,1.26],[70,1.4],[90,1.75],[110,1.85],[150,2.0],[200,2.06],[5000,2.064]];
const fAvgHigh=[[0,1.5],[20,1.45],[60,1.5],[90,1.8],[110,1.65],[150,1.55],[200,1.515],[5000,1.512]];
const fAvgLow=[[0,1.2],[20,.85],[40,.72],[60,.9],[80,1.1],[100,1.3],[150,1.45],[200,1.498],[5000,1.498]];
const fMinHigh=[[0,1.4],[15,.95],[40,.8],[60,.9],[80,.93],[100,.85],[150,.8],[200,.77],[5000,.769]];
const fMinLow=[[0,1.0],[15,.7],[30,.55],[45,.48],[60,.52],[80,.62],[100,.68],[150,.73],[200,.752],[5000,.755]];

const SVGNS='http://www.w3.org/2000/svg';
const svg=document.getElementById('overlay');
function mk(tag,name,attrs,parent){
  const el=document.createElementNS(SVGNS,tag);
  
  
  for(const k in attrs) el.setAttribute(k,attrs[k]);
  (parent||svg).appendChild(el);
  return el;
}
function label(name,x,y,str,size,anchor,extra,parent){
  const el=mk('text',name,Object.assign({x:x,y:y,'font-size':size,'text-anchor':anchor||'middle','dominant-baseline':'central'},extra||{}),parent);
  el.textContent=str;
  return el;
}
function scale(d0,d1,p0,p1){return v=>p0+(v-d0)*(p1-p0)/(d1-d0);}
function fmt(v){return String(Math.round(v*100)/100);}

function axes(cfg){
  const g=mk('g',cfg.name+'-axes',{});
  const sx=scale(cfg.xmin,cfg.xmax,cfg.x0,cfg.x1), sy=scale(cfg.ymin,cfg.ymax,cfg.y1,cfg.y0);
  const w=cfg.lw, len=cfg.tick;
  if(cfg.box) mk('rect',cfg.name+'-box',{x:cfg.x0,y:cfg.y0,width:cfg.x1-cfg.x0,height:cfg.y1-cfg.y0,fill:'none',stroke:'#262626','stroke-width':w},g);
  cfg.xticks.forEach(v=>{
    const x=sx(v);
    if(cfg.marks){
      mk('line',cfg.name+'-x-tick',{x1:x,x2:x,y1:cfg.y1,y2:cfg.y1-len,stroke:'#262626','stroke-width':w},g);
      mk('line',cfg.name+'-x-tick-top',{x1:x,x2:x,y1:cfg.y0,y2:cfg.y0+len,stroke:'#262626','stroke-width':w},g);
    }
    label(cfg.name+'-x-tick-label',x,cfg.xLabelY,fmt(v),cfg.font,'middle',null,g);
  });
  cfg.yticks.forEach(v=>{
    const y=sy(v);
    if(cfg.marks){
      mk('line',cfg.name+'-y-tick',{x1:cfg.x0,x2:cfg.x0+len,y1:y,y2:y,stroke:'#262626','stroke-width':w},g);
      mk('line',cfg.name+'-y-tick-right',{x1:cfg.x1,x2:cfg.x1-len,y1:y,y2:y,stroke:'#262626','stroke-width':w},g);
    }
    label(cfg.name+'-y-tick-label',cfg.yLabelX,y,fmt(v),cfg.font,'end',null,g);
  });
  return {sx,sy};
}

// ---- Scatter panels ----
function scatterPanel(cfg,points){
  const s=axes(cfg);
  const g=mk('g',cfg.name+'-points',{});
  points.forEach(p=>{
    const c=document.createElementNS(SVGNS,'circle');
    
    
    c.setAttribute('cx',s.sx(p[0]));
    c.setAttribute('cy',s.sy(p[1]));
    c.setAttribute('r',3.4);
    c.setAttribute('fill','none');
    c.setAttribute('stroke','#ff0000');
    c.setAttribute('stroke-width',2.3);
    g.appendChild(c);
  });
  mk('line',cfg.name+'-reference-line',{x1:cfg.x0,x2:cfg.x1,y1:s.sy(refLevel[0]),y2:s.sy(refLevel[0]),stroke:'#000','stroke-width':5.5,'stroke-dasharray':'20 19.4'});
  const lg=mk('g',cfg.name+'-legend',{});
  mk('rect',cfg.name+'-legend-box',{x:716,y:cfg.legY0,width:271,height:cfg.legY1-cfg.legY0,fill:'#fff',stroke:'#262626','stroke-width':1.5},lg);
  const ly=(cfg.legY0+cfg.legY1)/2;
  mk('line',cfg.name+'-legend-dash',{x1:721,x2:782,y1:ly,y2:ly,stroke:'#000','stroke-width':5.5,'stroke-dasharray':'21 19'},lg);
  const t=mk('text',cfg.name+'-legend-label',{x:802,y:ly+17,'font-size':62,'font-style':'italic',class:'serif'},lg);
  t.style.fill='#000';
  t.innerHTML='v<tspan dy="10" font-size="38">i</tspan><tspan dy="-10" font-style="normal" dx="6"> = </tspan><tspan>v</tspan><tspan dy="10" font-size="38" font-style="normal">∗</tspan>';
  const xl=mk('text',cfg.name+'-x-axis-title',{x:545,y:cfg.xTitleY,'font-size':30,'text-anchor':'middle','dominant-baseline':'central',class:'serif','font-weight':'bold',textLength:160,lengthAdjust:'spacingAndGlyphs'});
  xl.innerHTML='Node index <tspan font-style="italic">i</tspan>';
  const yl=mk('text',cfg.name+'-y-axis-title',{x:0,y:0,'font-size':30,'font-style':'italic','font-weight':'bold',class:'serif','text-anchor':'middle',transform:'translate(28 '+cfg.yTitleY+') rotate(-90)'});
  yl.innerHTML='v<tspan dy="6" font-size="20">i</tspan>';
}
scatterPanel({name:'panel-a',x0:86,x1:1005,y0:28,y1:708,xmin:0,xmax:1600,ymin:.8,ymax:2.8,xticks:ticksNode,yticks:ticksVA,lw:1.5,tick:9,box:true,marks:true,font:25,xLabelY:736,yLabelX:75,legY0:48,legY1:126,xTitleY:768,yTitleY:367},scatterA.concat(scatterABand));
scatterPanel({name:'panel-d',x0:86,x1:1005,y0:1008,y1:1687,xmin:0,xmax:1600,ymin:.6,ymax:2.2,xticks:ticksNode,yticks:ticksVD,lw:1.5,tick:9,box:true,marks:true,font:25,xLabelY:1714,yLabelX:75,legY0:1027,legY1:1105,xTitleY:1747,yTitleY:1348},scatterD.concat(scatterDBand,scatterDTop));

// ---- Heatmaps ----
function jet(x){
  const cl=v=>Math.max(0,Math.min(1,v));
  return [cl(1.5-Math.abs(4*x-3))*255,cl(1.5-Math.abs(4*x-2))*255,cl(1.5-Math.abs(4*x-1))*255];
}
function rowAt(arr,i){
  const k=Math.max(0,Math.min(arr.length-1,i-1500));
  const a=Math.floor(k), b=Math.min(arr.length-1,a+1);
  return arr[a]+(arr[b]-arr[a])*(k-a);
}
function cycleAt(t){
  const n=cycleShape.length;
  let ph=((t-4000)/cycleLengthT[0])%1;
  const f=ph*n, a=Math.floor(f)%n, b=(a+1)%n;
  return cycleShape[a]+(cycleShape[b]-cycleShape[a])*(f-Math.floor(f));
}
function paintHeat(id,valueFn,cmin,cmax){
  const cv=document.getElementById(id), ctx=cv.getContext('2d');
  const W=cv.width,H=cv.height, img=ctx.createImageData(W,H);
  const tx=scale(0,W,4000,5000), iy=scale(0,H,1600,1500);
  for(let y=0;y<H;y++){
    const node=iy(y+.5);
    for(let x=0;x<W;x++){
      const val=valueFn(tx(x+.5),node);
      const c=jet((val-cmin)/(cmax-cmin));
      const o=(y*W+x)*4;
      img.data[o]=c[0];img.data[o+1]=c[1];img.data[o+2]=c[2];img.data[o+3]=255;
    }
  }
  ctx.putImageData(img,0,0);
}
paintHeat('heatB',(t,i)=>{const lo=rowAt(rowTroughB,i),hi=rowAt(rowPeakB,i);return lo+(hi-lo)*cycleAt(t);},.55,2.557);
paintHeat('heatE',(t,i)=>rowAt(rowValueE,i),1.018,2.005);

function heatPanel(cfg){
  axes(cfg);
  mk('rect',cfg.name+'-frame',{x:cfg.x0,y:cfg.y0,width:cfg.x1-cfg.x0,height:cfg.y1-cfg.y0,fill:'none',stroke:'#8a8a8a','stroke-width':1});
  const g=mk('g',cfg.name+'-colorbar',{});
  mk('rect',cfg.name+'-colorbar-ramp',{x:2073.5,y:cfg.y0,width:39.5,height:cfg.y1-cfg.y0,fill:'url(#jetGrad)',stroke:'#262626','stroke-width':1.2},g);
  const sc=scale(cfg.cmin,cfg.cmax,cfg.y1,cfg.y0);
  cfg.barTicks.forEach(v=>{
    const y=sc(v);
    mk('line',cfg.name+'-colorbar-tick',{x1:2113,x2:2106,y1:y,y2:y,stroke:'#262626','stroke-width':1.2},g);
    label(cfg.name+'-colorbar-label',2123,y,fmt(v),22,'start',null,g);
  });
  label(cfg.name+'-x-axis-title',1644,cfg.xTitleY,'t',26,'middle',{'font-style':'italic',class:'serif'});
  const yl=mk('text',cfg.name+'-y-axis-title',{x:0,y:0,'font-size':24,'font-style':'italic',class:'serif','text-anchor':'middle',transform:'translate(1184 '+cfg.yTitleY+') rotate(-90)'});
  yl.textContent='i';
}
heatPanel({name:'panel-b',x0:1262,x1:2026,y0:28,y1:710,xmin:4000,xmax:5000,ymin:1500,ymax:1600,xticks:ticksT,yticks:ticksI,lw:1,tick:0,box:false,marks:false,font:24,xLabelY:735,yLabelX:1252,cmin:.55,cmax:2.557,barTicks:ticksBarB,xTitleY:767,yTitleY:374});
heatPanel({name:'panel-e',x0:1262,x1:2026,y0:1006,y1:1689,xmin:4000,xmax:5000,ymin:1500,ymax:1600,xticks:ticksT,yticks:ticksI,lw:1,tick:0,box:false,marks:false,font:24,xLabelY:1714,yLabelX:1252,cmin:1.018,cmax:2.005,barTicks:ticksBarE,xTitleY:1747,yTitleY:1348});

// ---- Time series envelope panels ----
function band(cfg,s,name,high,low,color){
  const pts=high.concat(low.slice().reverse()).map(p=>s.sx(p[0]).toFixed(1)+','+s.sy(p[1]).toFixed(1)).join(' ');
  mk('polygon',cfg.name+'-'+name+'-series',{points:pts,fill:color,stroke:color,'stroke-width':1.6,'stroke-linejoin':'miter'});
}
function seriesPanel(cfg,series){
  const s=axes(cfg);
  series.forEach(r=>band(cfg,s,r[0],r[1],r[2],r[3]));
  const g=mk('g',cfg.name+'-legend',{});
  mk('rect',cfg.name+'-legend-box',{x:3045,y:cfg.legY0,width:244,height:cfg.legY1-cfg.legY0,fill:'#fff',stroke:'#262626','stroke-width':4},g);
  [['min','#ff0000'],['average','#ffff00'],['max','#0000ff']].forEach((e,k)=>{
    const y=cfg.legY[k];
    mk('line',cfg.name+'-legend-line-'+e[0],{x1:3053,x2:3127,y1:y,y2:y,stroke:e[1],'stroke-width':3.5},g);
    const t=mk('text',cfg.name+'-legend-label-'+e[0],{x:3132,y:y+8,'font-size':31.5,class:'serif','font-weight':'bold'},g);
    t.style.fill='#000';
    t.innerHTML=e[0]+'(<tspan font-style="italic">v</tspan><tspan dy="5" font-size="21" font-style="italic">i</tspan><tspan dy="-5">)</tspan>';
  });
  label(cfg.name+'-x-axis-title',2867,cfg.xTitleY,'t',34,'middle');
  const yl=mk('text',cfg.name+'-y-axis-title',{x:0,y:0,'font-size':34,'text-anchor':'middle','dominant-baseline':'central',transform:'translate(2342 '+cfg.yTitleY+') rotate(-90)'});
  yl.textContent='v';
}
seriesPanel({name:'panel-c',x0:2427,x1:3308,y0:37,y1:680,xmin:0,xmax:5000,ymin:0,ymax:3.5,xticks:ticksTime,yticks:ticksVC,lw:4,tick:9,box:true,marks:true,font:32,xLabelY:717,yLabelX:2415,legY0:54,legY1:175,legY:[75,113,151.5],xTitleY:764,yTitleY:357},
  [['min',cMinHigh,cMinLow,'#ff0000'],['average',cAvgHigh,cAvgLow,'#ffff00'],['max',cMaxHigh,cMaxLow,'#0000ff']]);
seriesPanel({name:'panel-f',x0:2427,x1:3308,y0:1014,y1:1660,xmin:0,xmax:5000,ymin:0,ymax:3,xticks:ticksTime,yticks:ticksVF,lw:4,tick:9,box:true,marks:true,font:32,xLabelY:1696,yLabelX:2415,legY0:1033,legY1:1153,legY:[1054,1092,1131],xTitleY:1744,yTitleY:1336},
  [['min',fMinHigh,fMinLow,'#ff0000'],['average',fAvgHigh,fAvgLow,'#ffff00'],['max',fMaxHigh,fMaxLow,'#0000ff']]);

// ---- Panel captions ----
[['a',514,885],['b',1667,885],['c',2826,885],['d',514,1867],['e',1667,1867],['f',2826,1867]].forEach(c=>{
  const t=mk('text','caption-'+c[0],{x:c[1],y:c[2],'font-size':68,'text-anchor':'middle',class:'serif'});
  t.style.fill='#000';
  t.textContent='('+c[0]+')';
});
</script>
</body>
</html>
